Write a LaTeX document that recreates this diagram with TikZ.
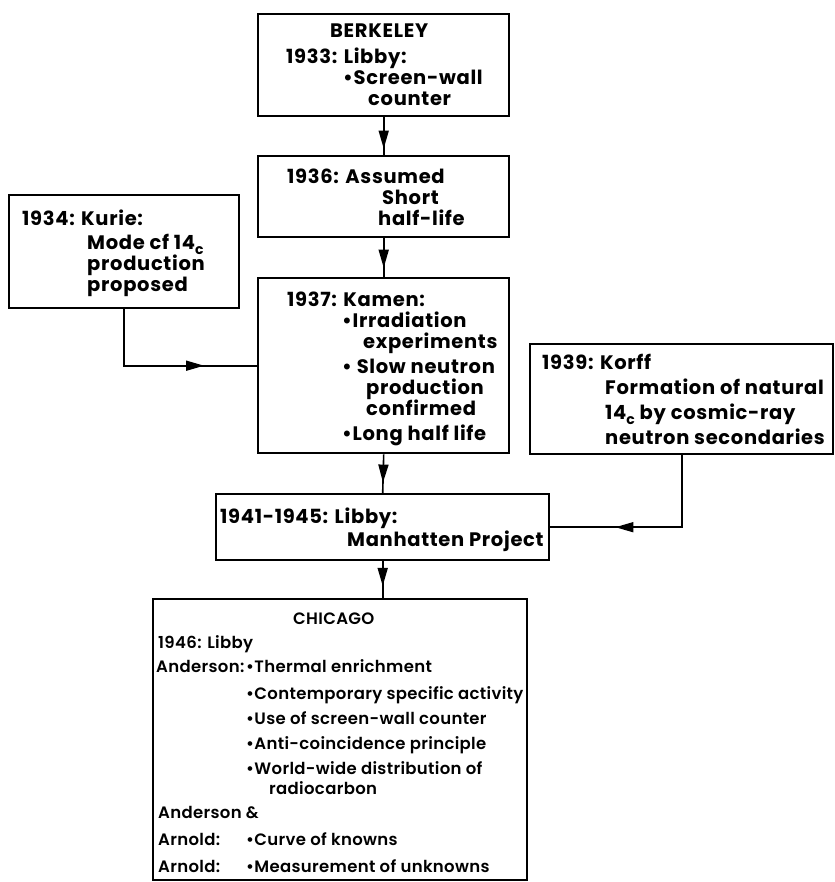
\documentclass[tikz,border=0pt]{standalone}
\usepackage{fontspec}
\setmainfont{Poppins}[LetterSpace=3.5]
\newfontfamily\chifont{Poppins SemiBold}[LetterSpace=2]
\usetikzlibrary{arrows.meta,decorations.markings}

\newcommand\subc{\raisebox{-.45ex}{\fontsize{14}{14}\selectfont c}}

\begin{document}
\begin{tikzpicture}[x=1pt,y=-1pt,
  box/.style={draw,line width=2.4pt,anchor=north west,inner sep=0pt},
  txt/.style={anchor=west,inner sep=0pt,align=left,font=\bfseries\fontsize{19.5}{21}\selectfont},
  chitxt/.style={anchor=west,inner sep=0pt,align=left,font=\chifont\fontsize{16.5}{25}\selectfont},
  link/.style={line width=1.6pt},
  midarrow/.style={postaction={decorate},decoration={markings,
    mark=at position #1 with {\arrow{Triangle[length=18pt,width=10pt]}}}}]
\useasboundingbox (0,0) rectangle (834,882);

% boxes
\node (berkeley) at (257,13) [box,minimum width=251pt,minimum height=102pt] {};
\node (assumed) at (257,155) [box,minimum width=251pt,minimum height=81pt] {};
\node (kurie) at (8,194) [box,minimum width=230pt,minimum height=113pt] {};
\node (kamen) at (257,277) [box,minimum width=251pt,minimum height=175pt] {};
\node (korff) at (529,343) [box,minimum width=303pt,minimum height=110pt] {};
\node (manhattan) at (215,493) [box,minimum width=333pt,minimum height=66pt] {};
\node (chicago) at (152,598) [box,line width=2pt,minimum width=374pt,minimum height=281pt] {};

% texts
\node (berkeleytxt) at ([xshift=29pt]berkeley.west) [txt] {%
\hspace*{44pt}BERKELEY\\[5pt]
1933: Libby:\\
\hspace*{57pt}•Screen-wall\\
\hspace*{82pt}counter};
\node (assumedtxt) at ([xshift=30pt,yshift=-1pt]assumed.west) [txt] {%
1936: Assumed\\
\hspace*{95pt}Short\\
\hspace*{91pt}half-life};
\node (kurietxt) at ([xshift=14pt,yshift=-2pt]kurie.west) [txt] {%
1934: Kurie:\\[3pt]
\hspace*{65pt}Mode cf 14\subc\\
\hspace*{65pt}production\\
\hspace*{65pt}proposed};
\node (kamentxt) at ([xshift=30pt,yshift=-3pt]kamen.west) [txt] {%
1937: Kamen:\\
\hspace*{55pt}•Irradiation\\
\hspace*{76pt}experiments\\[4pt]
\hspace*{55pt}• Slow neutron\\
\hspace*{79pt}production\\
\hspace*{79pt}confirmed\\[4pt]
\hspace*{55pt}•Long half life};
\node (korfftxt) at ([xshift=13pt]korff.west) [txt,font=\bfseries\fontsize{19.5}{25}\selectfont] {%
1939: Korff\\
\hspace*{63pt}Formation of natural\\
\hspace*{63pt}14\subc{} by cosmic-ray\\
\hspace*{63pt}neutron secondaries};
\node (manhattantxt) at ([xshift=5pt,yshift=-3pt]manhattan.west) [txt,font=\bfseries\fontsize{19.5}{23}\selectfont] {%
1941-1945: Libby:\\
\hspace*{127pt}Manhatten Project};
\node (chicagotxt) at ([xshift=4pt,yshift=-3pt]chicago.west) [chitxt] {%
\hspace*{137pt}CHICAGO\\[-1pt]
\hspace*{2pt}1946: Libby\\[-1pt]
\makebox[90pt][l]{Anderson:}•Thermal enrichment\\[2pt]
\hspace*{90pt}•Contemporary specific activity\\
\hspace*{90pt}•Use of screen-wall counter\\
\hspace*{90pt}•Anti-coincidence principle\\
\hspace*{90pt}•World-wide distribution of\\[-5pt]
\hspace*{113pt}radiocarbon\\[-1pt]
\hspace*{2pt}Anderson \&\\[2pt]
\hspace*{2pt}\makebox[88pt][l]{Arnold:}•Curve of knowns\\[2pt]
\hspace*{2pt}\makebox[88pt][l]{Arnold:}•Measurement of unknowns};

% connectors
\draw [link,midarrow=.83] (berkeley.south) -- (assumed.north);
\draw [link,midarrow=.76] (assumed.south) -- (kamen.north);
\draw [link,midarrow=.72] (kurie.south) |- (kamen.west);
\draw [link,midarrow=.73] (kamen.south) -- (manhattan.north);
\draw [link,midarrow=.68] (korff.south) |- (manhattan.east);
\draw [link,midarrow=.67] (manhattan.south) -- (manhattan.south |- chicago.north);
\end{tikzpicture}
\end{document}
